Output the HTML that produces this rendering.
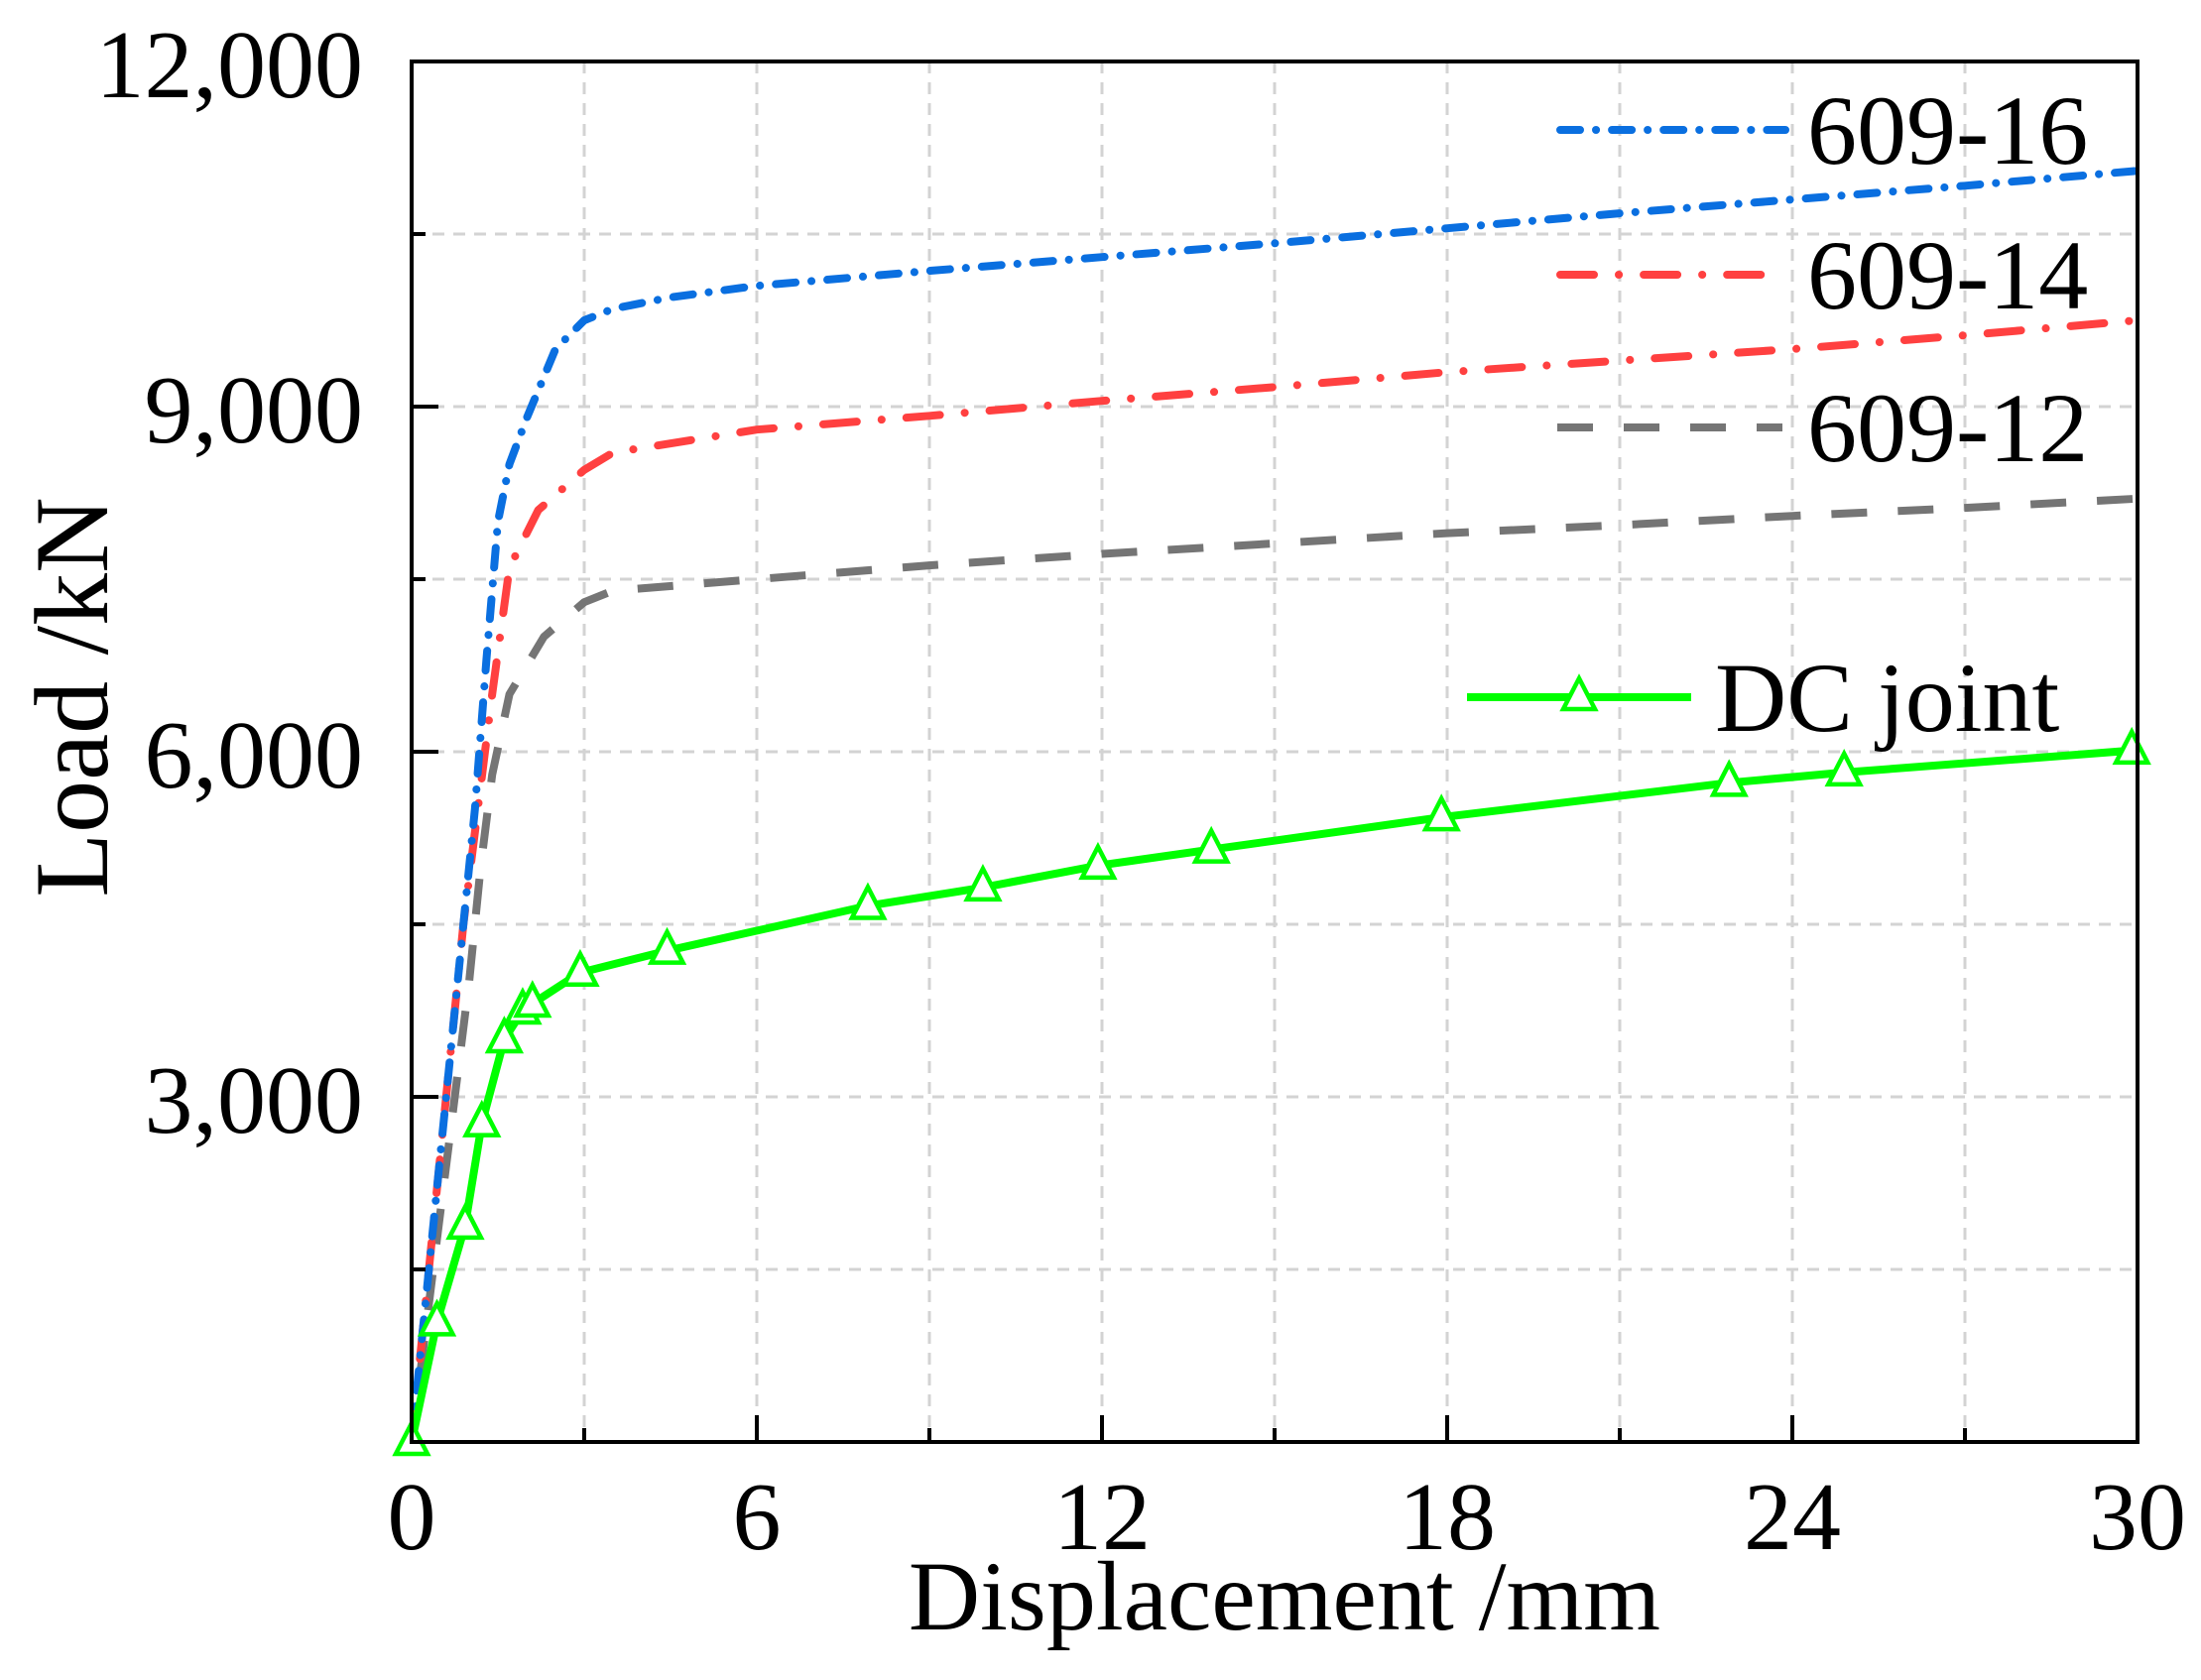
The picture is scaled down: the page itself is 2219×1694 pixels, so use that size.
<!DOCTYPE html>
<html><head><meta charset="utf-8"><style>
html,body{margin:0;padding:0;background:#fff}
svg{display:block}
text{font-family:"Liberation Serif",serif;fill:#000}
</style></head><body>
<svg id="chart" width="2219" height="1694" viewBox="0 0 2219 1694" xmlns="http://www.w3.org/2000/svg">
<g id="grid"></g>
<g id="series"></g>
<g id="axes"></g>
<g id="legend"></g>
<text x="1295" y="1643" font-size="100" text-anchor="middle">Displacement /mm</text>
<text x="0" y="0" font-size="106" text-anchor="middle" transform="translate(108,703) rotate(-90)">Load /kN</text>
</svg>
<script>
const xTicks=[0,6,12,18,24,30];
const yTicks=[3000,6000,9000,12000];
const yTickLabels=["3,000","6,000","9,000","12,000"];
const names=["609-16","609-14","609-12","DC joint"];
const s16x=[0,0.3,0.6,0.9,1.1,1.3,1.5,1.7,2.0,2.5,3,3.5,4.5,6,9,12,15,18,21,24,27,30];
const s16y=[0,1500,3000,4500,5500,6800,8000,8500,8900,9500,9750,9850,9950,10050,10180,10300,10420,10550,10680,10800,10920,11050];
const s14x=[0,0.4,0.9,1.2,1.4,1.7,2.2,3,3.5,6,9,12,15,18,21,24,27,30];
const s14y=[0,2000,4500,5700,6500,7600,8100,8450,8600,8800,8920,9050,9170,9300,9400,9500,9620,9750];
const s12x=[0,0.5,1,1.2,1.4,1.7,2.3,3,3.5,6,9,12,15,18,21,24,27,30];
const s12y=[0,2000,4000,5000,5800,6500,7000,7300,7400,7500,7620,7720,7810,7900,7970,8050,8120,8200];
const dcx=[0,0.44,0.93,1.22,1.61,1.93,2.1,2.93,4.44,7.93,9.93,11.93,13.9,17.9,22.9,24.9,29.9];
const dcy=[0,1040,1880,2770,3500,3750,3810,4080,4270,4660,4820,5010,5150,5430,5730,5820,6010];

const X0=415,X1=2155,Y0=1454,Y1=62;
const xs=v=>X0+(v/30)*(X1-X0);
const ys=v=>Y0-(v/12000)*(Y0-Y1);
const NS="http://www.w3.org/2000/svg";
function mk(tag,parent,attrs){const e=document.createElementNS(NS,tag);for(const k in attrs)e.setAttribute(k,attrs[k]);parent.appendChild(e);return e;}
const grid=document.getElementById('grid'),axes=document.getElementById('axes'),series=document.getElementById('series'),legend=document.getElementById('legend');
for(let v=3;v<30;v+=3){const l=mk('line',grid,{x1:xs(v),x2:xs(v),y1:Y1,y2:Y0,stroke:'#d3d3d3','stroke-width':3,'stroke-dasharray':'12 9'});

}
for(let v=1500;v<12000;v+=1500){const l=mk('line',grid,{x1:X0,x2:X1,y1:ys(v),y2:ys(v),stroke:'#d3d3d3','stroke-width':3,'stroke-dasharray':'12 9'});

}
function line(xa,ya,color,dash,cap,name){
 const d=xa.map((x,i)=>(i?'L':'M')+xs(x).toFixed(1)+','+ys(ya[i]).toFixed(1)).join('');
 const p=mk('path',series,{d:d,fill:'none',stroke:color,'stroke-width':8,'stroke-dasharray':dash,'stroke-linecap':cap,'stroke-linejoin':'round'});
 
 
}
line(s12x,s12y,'#757575','36 31','butt','series-609-12');
line(s14x,s14y,'#ff4040','34 25 0.1 25','round','series-609-14');
line(s16x,s16y,'#0a6fe0','20 16 0.1 16','round','series-609-16');
line(dcx,dcy,'#00ff00','','round','series-dc-joint');
function tri(cx,cy,parent){return mk('path',parent,{d:`M${cx},${cy-19}L${cx+16},${cy+12}L${cx-16},${cy+12}Z`,fill:'#fff',stroke:'#00ff00','stroke-width':4.5});}
dcx.forEach((x,i)=>{const t=tri(xs(x),ys(dcy[i]),series);

});
const fr=mk('rect',axes,{x:X0,y:Y1,width:X1-X0,height:Y0-Y1,fill:'none',stroke:'#000','stroke-width':4});


for(let v=3;v<30;v+=3){const major=v%6===0;const t=mk('line',axes,{x1:xs(v),x2:xs(v),y1:Y0,y2:Y0-(major?27:14),stroke:'#000','stroke-width':4});

}
for(let v=1500;v<12000;v+=1500){const major=v%3000===0;const t=mk('line',axes,{x1:X0,x2:X0+(major?27:14),y1:ys(v),y2:ys(v),stroke:'#000','stroke-width':4});

}
xTicks.forEach(v=>{const t=mk('text',axes,{x:xs(v),y:1562,'font-size':98,'text-anchor':'middle'});t.textContent=String(v);

});
yTicks.forEach((v,i)=>{const t=mk('text',axes,{x:366,y:ys(v)+36,'font-size':98,'text-anchor':'end'});t.textContent=yTickLabels[i];

});
const leg=[[131,1573,1800,'#0a6fe0','20 16 0.1 16','round'],[277,1573,1782,'#ff4040','34 25 0.1 25','round'],[431,1570,1797,'#757575','36 31','butt']];
leg.forEach((L,i)=>{const l=mk('line',legend,{x1:L[1],x2:L[2],y1:L[0],y2:L[0],stroke:L[3],'stroke-width':8,'stroke-dasharray':L[4],'stroke-linecap':L[5]});


const t=mk('text',legend,{x:1822,y:L[0]+34,'font-size':100});t.textContent=names[i];

});
const dl=mk('line',legend,{x1:1479,x2:1705,y1:703,y2:703,stroke:'#00ff00','stroke-width':8});


const dt=tri(1592,703,legend);


const dtx=mk('text',legend,{x:1729,y:737,'font-size':100});dtx.textContent=names[3];


</script>
</body></html>
